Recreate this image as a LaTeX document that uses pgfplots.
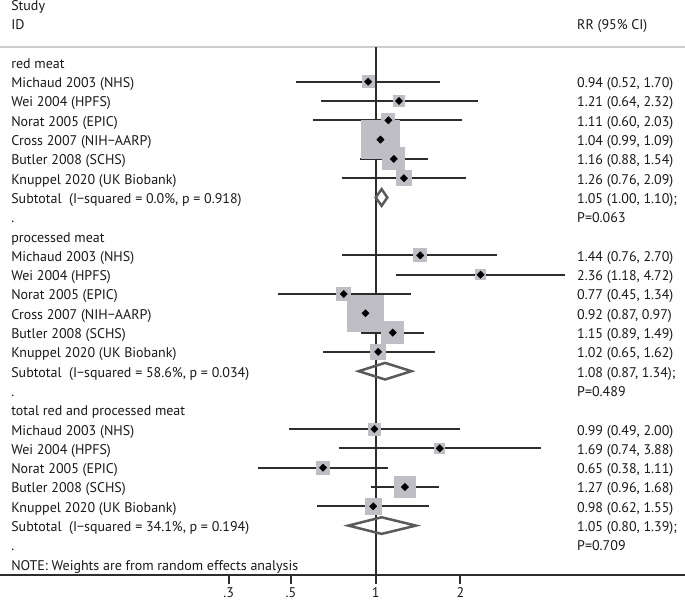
\documentclass[border=0pt]{standalone}
\usepackage{pgfplots}
\pgfplotsset{compat=1.18}
\usepackage{pgfplotstable}
\usepackage{fontspec}
\setmainfont{PT Sans}
\definecolor{boxgray}{RGB}{190,190,196}
\definecolor{ciline}{RGB}{45,45,45}
\definecolor{diagray}{RGB}{90,90,90}
\definecolor{sepgray}{RGB}{205,205,205}
\definecolor{txt}{RGB}{25,25,25}

% row, estimate, lower, upper, box side (px)
\pgfplotstableread{
k est lo hi s
1 0.94 0.52 1.70 12
2 1.21 0.64 2.32 11
3 1.11 0.60 2.03 13
4 1.04 0.99 1.09 38
5 1.16 0.88 1.54 22
6 1.26 0.76 2.09 15
10 1.44 0.76 2.70 13
11 2.36 1.18 4.72 10
12 0.77 0.45 1.34 14
13 0.92 0.87 0.97 36
14 1.15 0.89 1.49 22
15 1.02 0.65 1.62 15
19 0.99 0.49 2.00 12
20 1.69 0.74 3.88 10
21 0.65 0.38 1.11 13
22 1.27 0.96 1.68 21
23 0.98 0.62 1.55 16
}\studies

\newcommand\lt[2]{\node[anchor=base west,inner sep=0pt,yshift=-6bp,text=txt] at (axis cs:0.0505,-#1) {#2};}
\newcommand\rt[2]{\node[anchor=base west,inner sep=0pt,yshift=-6bp,text=txt] at (axis cs:5.20,-#1) {#2};}

\begin{document}
\fontsize{14bp}{16bp}\selectfont
\begin{tikzpicture}
\begin{axis}[
  at={(0,0)}, anchor=south west,
  scale only axis, width=685bp, height=575bp,
  xmode=log, xmin=0.04612, xmax=12.59,
  ymin=-26.56, ymax=3.233,
  axis x line=bottom, axis y line=none,
  x axis line style={-, line width=2bp, color=ciline},
  xtick={0.3,0.5,1,2}, xticklabels={.3,.5,1,2},
  minor xtick={},
  tick align=outside, major tick length=9bp,
  tick style={line width=1.8bp, color=ciline},
  xticklabel style={anchor=base, inner sep=0pt, yshift=-13bp, text=txt, font=\fontsize{14bp}{16bp}\selectfont},
  clip=false,
]
% separator and reference line
\addplot[sepgray, line width=2bp] coordinates {(0.04612,0.8) (12.59,0.8)};
\addplot[ciline, line width=2bp] coordinates {(1,0.8) (1,-26.56)};
% weight boxes
\addplot[boxgray, scatter, only marks, mark=square*,
  mark options={draw=boxgray, fill=boxgray, line width=0pt},
  scatter/use mapped color={draw=boxgray, fill=boxgray},
  visualization depends on={\thisrow{s} \as \side},
  scatter/@pre marker code/.append style={/tikz/mark size=\side/2}]
  table[x=est, y expr=-\thisrow{k}] {\studies};
% confidence intervals
\addplot[ciline, line width=2bp] table {
x y
0.52 -1
1.70 -1

0.64 -2
2.32 -2

0.60 -3
2.03 -3

0.99 -4
1.09 -4

0.88 -5
1.54 -5

0.76 -6
2.09 -6

0.76 -10
2.70 -10

1.18 -11
4.72 -11

0.45 -12
1.34 -12

0.87 -13
0.97 -13

0.89 -14
1.49 -14

0.65 -15
1.62 -15

0.49 -19
2.00 -19

0.74 -20
3.88 -20

0.38 -21
1.11 -21

0.96 -22
1.68 -22

0.62 -23
1.55 -23
};
% point estimates
\addplot[only marks, mark=square*, mark size=2.6, mark options={rotate=45, fill=black, draw=none}]
  table[x=est, y expr=-\thisrow{k}] {\studies};
% pooled diamonds
\addplot[diagray, line width=2.5bp, line join=miter] coordinates {(1.00,-7) (1.05,-6.57) (1.10,-7) (1.05,-7.43)} -- cycle;
\addplot[diagray, line width=2.5bp, line join=miter] coordinates {(0.87,-16) (1.08,-15.57) (1.34,-16) (1.08,-16.43)} -- cycle;
\addplot[diagray, line width=2.5bp, line join=miter] coordinates {(0.80,-24) (1.05,-23.57) (1.39,-24) (1.05,-24.43)} -- cycle;

% texts
\lt{-3}{Study}
\lt{-2}{ID}
\rt{-2}{RR (95\% CI)}
\lt{0}{red meat}
\lt{1}{Michaud 2003 (NHS)}
\lt{2}{Wei 2004 (HPFS)}
\lt{3}{Norat 2005 (EPIC)}
\lt{4}{Cross 2007 (NIH−AARP)}
\lt{5}{Butler 2008 (SCHS)}
\lt{6}{Knuppel 2020 (UK Biobank)}
\lt{7}{Subtotal\ \ (I−squared = 0.0\%, p = 0.918)}
\lt{8}{.}
\lt{9}{processed meat}
\lt{10}{Michaud 2003 (NHS)}
\lt{11}{Wei 2004 (HPFS)}
\lt{12}{Norat 2005 (EPIC)}
\lt{13}{Cross 2007 (NIH−AARP)}
\lt{14}{Butler 2008 (SCHS)}
\lt{15}{Knuppel 2020 (UK Biobank)}
\lt{16}{Subtotal\ \ (I−squared = 58.6\%, p = 0.034)}
\lt{17}{.}
\lt{18}{total red and processed meat}
\lt{19}{Michaud 2003 (NHS)}
\lt{20}{Wei 2004 (HPFS)}
\lt{21}{Norat 2005 (EPIC)}
\lt{22}{Butler 2008 (SCHS)}
\lt{23}{Knuppel 2020 (UK Biobank)}
\lt{24}{Subtotal\ \ (I−squared = 34.1\%, p = 0.194)}
\lt{25}{.}
\lt{26}{NOTE: Weights are from random effects analysis}

\rt{1}{0.94 (0.52, 1.70)}
\rt{2}{1.21 (0.64, 2.32)}
\rt{3}{1.11 (0.60, 2.03)}
\rt{4}{1.04 (0.99, 1.09)}
\rt{5}{1.16 (0.88, 1.54)}
\rt{6}{1.26 (0.76, 2.09)}
\rt{7}{1.05 (1.00, 1.10);}
\rt{8}{P=0.063}
\rt{10}{1.44 (0.76, 2.70)}
\rt{11}{2.36 (1.18, 4.72)}
\rt{12}{0.77 (0.45, 1.34)}
\rt{13}{0.92 (0.87, 0.97)}
\rt{14}{1.15 (0.89, 1.49)}
\rt{15}{1.02 (0.65, 1.62)}
\rt{16}{1.08 (0.87, 1.34);}
\rt{17}{P=0.489}
\rt{19}{0.99 (0.49, 2.00)}
\rt{20}{1.69 (0.74, 3.88)}
\rt{21}{0.65 (0.38, 1.11)}
\rt{22}{1.27 (0.96, 1.68)}
\rt{23}{0.98 (0.62, 1.55)}
\rt{24}{1.05 (0.80, 1.39);}
\rt{25}{P=0.709}
\end{axis}
\pgfresetboundingbox
\path (0,-25bp) rectangle (685bp,575bp);
\end{tikzpicture}
\end{document}
